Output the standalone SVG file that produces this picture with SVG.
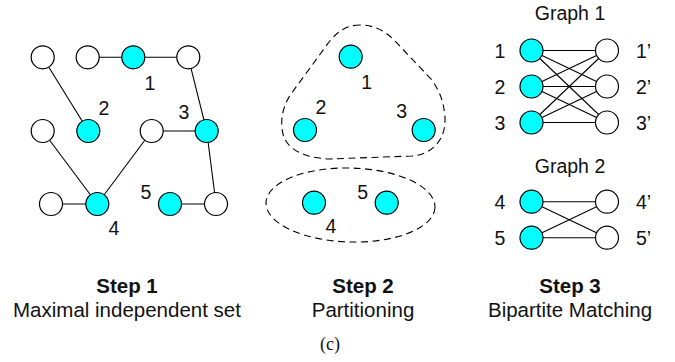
<svg xmlns="http://www.w3.org/2000/svg" width="675" height="362" viewBox="0 0 675 362">
<style>
.n{stroke:#000;stroke-width:1.2}
.w{fill:#fff}
.c{fill:#00ffff}
.e line{stroke:#000;stroke-width:1.1}
text{font-family:"Liberation Sans",Arial,sans-serif;font-size:19.5px;fill:#111}
.lab{text-anchor:middle}
.b{font-weight:bold;font-size:20.5px}
.t{font-size:20.5px}
.d{fill:none;stroke:#000;stroke-width:1.1;stroke-dasharray:7,4.5}
</style>
<rect width="675" height="362" fill="#fff"/>
<!-- Step 1 connectors -->
<g id="edges1" class="e">
<line x1="87.7" y1="57.3" x2="133.3" y2="57.3"/>
<line x1="133.3" y1="57.3" x2="188.3" y2="57.3"/>
<line x1="188.3" y1="57.3" x2="206.7" y2="131"/>
<line x1="42.7" y1="57.3" x2="88.3" y2="131"/>
<line x1="42.7" y1="131" x2="97.3" y2="204"/>
<line x1="51" y1="204" x2="97.3" y2="204"/>
<line x1="151.7" y1="131" x2="97.3" y2="204"/>
<line x1="151.7" y1="131" x2="206.7" y2="131"/>
<line x1="206.7" y1="131" x2="216" y2="204"/>
<line x1="170" y1="204" x2="216" y2="204"/>
</g>
<g id="s1a"><circle class="n w" cx="42.7" cy="57.3" r="11.5"/></g>
<g id="s1b"><circle class="n w" cx="87.7" cy="57.3" r="11.5"/></g>
<g id="s1c"><circle class="n c" cx="133.3" cy="57.3" r="11.5"/><text class="lab" x="150" y="90">1</text></g>
<g id="s1d"><circle class="n w" cx="188.3" cy="57.3" r="11.5"/></g>
<g id="s1e"><circle class="n w" cx="42.7" cy="131" r="11.5"/></g>
<g id="s1f"><circle class="n c" cx="88.3" cy="131" r="11.5"/><text class="lab" x="104" y="115">2</text></g>
<g id="s1g"><circle class="n w" cx="151.7" cy="131" r="11.5"/></g>
<g id="s1h"><circle class="n c" cx="206.7" cy="131" r="11.5"/><text class="lab" x="184" y="119">3</text></g>
<g id="s1i"><circle class="n w" cx="51" cy="204" r="11.5"/></g>
<g id="s1j"><circle class="n c" cx="97.3" cy="204" r="11.5"/><text class="lab" x="114" y="235">4</text></g>
<g id="s1k"><circle class="n c" cx="170" cy="204" r="11.5"/><text class="lab" x="146" y="199">5</text></g>
<g id="s1l"><circle class="n w" cx="216" cy="204" r="11.5"/></g>
<!-- Step 2 -->
<g id="part1"><path class="d" d="M360,25 C347,25 338,31 329,42 L291,94 C282,107 280,122 283,134 C287,150 305,158 330,159 L412,156 C434,154 446,138 445,118 C444,102 440,92 432,80 L394,40 C384,30 373,25 360,25 Z"/></g>
<g id="part2"><ellipse class="d" cx="350.5" cy="205" rx="84.5" ry="37" transform="rotate(1.5 350.5 205)"/></g>
<g id="s2n1"><circle class="n c" cx="350.7" cy="56.7" r="11.5"/><text class="lab" x="366.7" y="89">1</text></g>
<g id="s2n2"><circle class="n c" cx="305" cy="130" r="11.5"/><text class="lab" x="321" y="114">2</text></g>
<g id="s2n3"><circle class="n c" cx="423.7" cy="130" r="11.5"/><text class="lab" x="401.7" y="118">3</text></g>
<g id="s2n4"><circle class="n c" cx="314" cy="202.7" r="11.5"/><text class="lab" x="331" y="233">4</text></g>
<g id="s2n5"><circle class="n c" cx="386.7" cy="202.7" r="11.5"/><text class="lab" x="362.7" y="199">5</text></g>
<!-- Step 3 connectors -->
<g id="edges3" class="e">
<line x1="531.5" y1="50.5" x2="607" y2="50.5"/>
<line x1="531.5" y1="50.5" x2="607" y2="86.5"/>
<line x1="531.5" y1="50.5" x2="607" y2="122.5"/>
<line x1="531.5" y1="86.5" x2="607" y2="50.5"/>
<line x1="531.5" y1="86.5" x2="607" y2="86.5"/>
<line x1="531.5" y1="86.5" x2="607" y2="122.5"/>
<line x1="531.5" y1="122.5" x2="607" y2="50.5"/>
<line x1="531.5" y1="122.5" x2="607" y2="86.5"/>
<line x1="531.5" y1="122.5" x2="607" y2="122.5"/>
<line x1="531.5" y1="201.7" x2="607" y2="201.7"/>
<line x1="531.5" y1="201.7" x2="607" y2="237.7"/>
<line x1="531.5" y1="237.7" x2="607" y2="201.7"/>
<line x1="531.5" y1="237.7" x2="607" y2="237.7"/>
</g>
<text class="lab" x="570" y="20">Graph 1</text>
<text class="lab" x="570" y="173">Graph 2</text>
<g id="g1l1"><circle class="n c" cx="531.5" cy="50.5" r="11.5"/><text class="lab" x="500" y="57.5">1</text></g>
<g id="g1l2"><circle class="n c" cx="531.5" cy="86.5" r="11.5"/><text class="lab" x="500" y="93.5">2</text></g>
<g id="g1l3"><circle class="n c" cx="531.5" cy="122.5" r="11.5"/><text class="lab" x="500" y="129.5">3</text></g>
<g id="g1r1"><circle class="n w" cx="607" cy="50.5" r="11.5"/><text x="636" y="57.5">1’</text></g>
<g id="g1r2"><circle class="n w" cx="607" cy="86.5" r="11.5"/><text x="636" y="93.5">2’</text></g>
<g id="g1r3"><circle class="n w" cx="607" cy="122.5" r="11.5"/><text x="636" y="129.5">3’</text></g>
<g id="g2l4"><circle class="n c" cx="531.5" cy="201.7" r="11.5"/><text class="lab" x="500" y="208.7">4</text></g>
<g id="g2l5"><circle class="n c" cx="531.5" cy="237.7" r="11.5"/><text class="lab" x="500" y="244.7">5</text></g>
<g id="g2r4"><circle class="n w" cx="607" cy="201.7" r="11.5"/><text x="636" y="208.7">4’</text></g>
<g id="g2r5"><circle class="n w" cx="607" cy="237.7" r="11.5"/><text x="636" y="244.7">5’</text></g>
<!-- captions -->
<text class="lab b" x="127" y="293.3">Step 1</text>
<text class="lab t" x="127" y="317.3">Maximal independent set</text>
<text class="lab b" x="363" y="293.3">Step 2</text>
<text class="lab t" x="363" y="317.3">Partitioning</text>
<text class="lab b" x="570" y="293.3">Step 3</text>
<text class="lab t" x="570" y="317.3">Bipartite Matching</text>
<text class="lab" x="330" y="350" style="font-family:'Liberation Serif','Times New Roman',serif;font-size:18px">(c)</text>
</svg>
